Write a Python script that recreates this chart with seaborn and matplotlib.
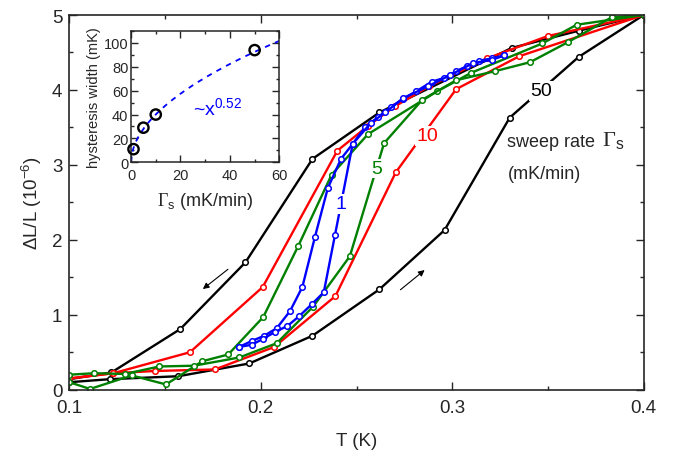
import numpy as np
import pandas as pd
import matplotlib
matplotlib.use("Agg")
import matplotlib.pyplot as plt
from matplotlib.ticker import MultipleLocator
import seaborn as sns

# ---- data: T (K) and dL/L (1e-6) ----
# 50 mK/min
black_cool_T = [0.400, 0.366, 0.331, 0.262, 0.227, 0.192, 0.158, 0.122, 0.100]
black_cool_y = [5.00, 4.79, 4.56, 3.70, 3.08, 1.70, 0.81, 0.23, 0.14]
black_warm_T = [0.100, 0.121, 0.157, 0.194, 0.227, 0.262, 0.296, 0.330, 0.366, 0.400]
black_warm_y = [0.10, 0.14, 0.18, 0.35, 0.72, 1.34, 2.13, 3.63, 4.44, 5.00]

# 10 mK/min
red_cool_T = [0.400, 0.350, 0.318, 0.288, 0.270, 0.256, 0.240, 0.201, 0.163, 0.123, 0.100]
red_cool_y = [5.00, 4.72, 4.42, 4.05, 3.78, 3.52, 3.19, 1.37, 0.50, 0.22, 0.15]
red_warm_T = [0.100, 0.123, 0.145, 0.176, 0.207, 0.239, 0.2705, 0.302, 0.335, 0.400]
red_warm_y = [0.15, 0.22, 0.25, 0.27, 0.57, 1.25, 2.90, 4.01, 4.45, 5.00]

# 5 mK/min
green_cool_T = [0.400, 0.365, 0.347, 0.310, 0.292, 0.256, 0.237, 0.2196, 0.2013, 0.183,
                0.1695, 0.1505, 0.1326, 0.1108, 0.100]
green_cool_y = [5.00, 4.87, 4.62, 4.23, 3.98, 3.41, 2.87, 1.92, 0.97, 0.47,
                0.38, 0.07, 0.19, 0.01, 0.10]
green_warm_T = [0.100, 0.113, 0.129, 0.147, 0.1651, 0.1888, 0.2083, 0.2274, 0.2465,
                0.2644, 0.2844, 0.3021, 0.3223, 0.3406, 0.3606, 0.3833, 0.400]
green_warm_y = [0.20, 0.22, 0.21, 0.31, 0.32, 0.43, 0.62, 1.11, 1.78,
                3.29, 3.87, 4.13, 4.25, 4.37, 4.64, 4.97, 5.00]

# 1 mK/min
blue_cool_T = [0.327, 0.3206, 0.3141, 0.3079, 0.302, 0.2957, 0.2893, 0.2811, 0.2741, 0.2679,
               0.2614, 0.2544, 0.248, 0.2419, 0.235, 0.2283, 0.2217, 0.2153, 0.2083, 0.2018,
               0.1953, 0.1886]
blue_cool_y = [4.46, 4.42, 4.39, 4.32, 4.25, 4.16, 4.11, 3.98, 3.88, 3.77,
               3.64, 3.50, 3.28, 3.08, 2.69, 2.04, 1.37, 1.05, 0.82, 0.72,
               0.65, 0.57]
blue_warm_T = [0.1886, 0.1953, 0.2013, 0.2074, 0.2139, 0.2200, 0.2266, 0.2329, 0.2388, 0.248,
               0.2575, 0.2650, 0.2744, 0.2875, 0.2990, 0.3110, 0.3206, 0.327]
blue_warm_y = [0.57, 0.60, 0.68, 0.77, 0.85, 0.98, 1.14, 1.30, 2.07, 3.28,
               3.56, 3.70, 3.89, 4.05, 4.20, 4.36, 4.40, 4.46]

# inset: hysteresis width vs sweep rate
rate = [1, 5, 10, 50]
width = [11, 29, 40, 94]
fit_amp, fit_exp = 12.1, 0.52

sns.set_style("ticks")
plt.rcParams['font.family'] = ['Liberation Sans', 'DejaVu Sans']
plt.rcParams['mathtext.fontset'] = 'custom'
plt.rcParams['mathtext.rm'] = 'Liberation Serif'
plt.rcParams['mathtext.sf'] = 'Liberation Sans'
plt.rcParams['mathtext.it'] = 'Liberation Sans:italic'

fig = plt.figure(figsize=(6.73, 4.56), dpi=100)
ax = fig.add_axes([0.103, 0.1432, 0.8535, 0.8217])

curves = [
    (black_cool_T, black_cool_y, 'black'),
    (black_warm_T, black_warm_y, 'black'),
    (red_cool_T, red_cool_y, '#ff0000'),
    (red_warm_T, red_warm_y, '#ff0000'),
    (green_cool_T, green_cool_y, '#008000'),
    (green_warm_T, green_warm_y, '#008000'),
    (blue_cool_T, blue_cool_y, '#0000ff'),
    (blue_warm_T, blue_warm_y, '#0000ff'),
]
for T, y, c in curves:
    sns.lineplot(x=T, y=y, sort=False, color=c, lw=1.7, marker='o', markersize=4,
                 markerfacecolor='white', markeredgecolor=c, markeredgewidth=1.1,
                 ax=ax, clip_on=True)

ax.set_xlim(0.1, 0.4)
ax.set_ylim(0, 5)
ax.xaxis.set_major_locator(MultipleLocator(0.1))
ax.xaxis.set_minor_locator(MultipleLocator(0.05))
ax.yaxis.set_major_locator(MultipleLocator(1))
ax.yaxis.set_minor_locator(MultipleLocator(0.5))
ax.tick_params(which='both', direction='in', top=True, right=True, labelsize=13.5, width=1)
ax.tick_params(which='major', length=6)
ax.tick_params(which='minor', length=3)
ax.tick_params(axis='x', pad=7)
ax.tick_params(axis='y', pad=5)
for s in ax.spines.values():
    s.set_linewidth(1.2)
ax.set_xlabel('T (K)', fontsize=13.5, labelpad=11)
ax.set_ylabel(r'$\mathsf{\Delta}$L/L (10$^{\mathsf{-6}}$)', fontsize=13.5, labelpad=6)

# labels on the curves (white box hides the line under them)
box = dict(facecolor='white', edgecolor='none', pad=1)
ax.text(0.3465, 3.99, '50', color='black', fontsize=14, ha='center', va='center', bbox=box)
ax.text(0.2868, 3.39, '10', color='#ff0000', fontsize=14, ha='center', va='center', bbox=box)
ax.text(0.2607, 2.95, '5', color='#008000', fontsize=14, ha='center', va='center', bbox=box)
ax.text(0.2420, 2.48, '1', color='#0000ff', fontsize=14, ha='center', va='center', bbox=box)
ax.text(0.3288, 3.31, 'sweep rate', fontsize=13, ha='left', va='center')
ax.text(0.3782, 3.33, r'$\mathrm{\Gamma}_{\mathsf{s}}$', fontsize=16, ha='left', va='center')
ax.text(0.3288, 2.89, '(mK/min)', fontsize=13, ha='left', va='center')

arrow = dict(arrowstyle='-|>', color='black', lw=0.8, mutation_scale=9)
ax.annotate('', xy=(0.1686, 1.32), xytext=(0.184, 1.63), arrowprops=arrow)
ax.annotate('', xy=(0.2867, 1.62), xytext=(0.2718, 1.31), arrowprops=arrow)

# inset
ins = fig.add_axes([0.1947, 0.6419, 0.2204, 0.2879])
xs = np.linspace(0, 60, 200)
sns.lineplot(x=xs, y=fit_amp * xs ** fit_exp, color='#0000ff', lw=1.3,
             linestyle=(0, (3, 3)), ax=ins)
sns.scatterplot(x=rate, y=width, s=55, facecolor='none', edgecolor='black',
                linewidth=1.7, ax=ins, zorder=3, clip_on=False)
ins.set_xlim(0, 60)
ins.set_ylim(0, 110)
ins.xaxis.set_major_locator(MultipleLocator(20))
ins.xaxis.set_minor_locator(MultipleLocator(10))
ins.yaxis.set_major_locator(MultipleLocator(20))
ins.yaxis.set_minor_locator(MultipleLocator(10))
ins.tick_params(which='both', direction='in', top=True, right=True, labelsize=10.5, width=1, pad=2)
ins.tick_params(axis='x', pad=4)
ins.tick_params(which='major', length=5)
ins.tick_params(which='minor', length=2.5)
for s in ins.spines.values():
    s.set_linewidth(1.1)
ins.set_xlabel(r'$\mathrm{\Gamma}_{\mathsf{s}}$ (mK/min)', fontsize=13, labelpad=6)
ins.set_ylabel('hysteresis width (mK)', fontsize=10.5, labelpad=2)
ins.text(25, 46, r'~x$^{\mathsf{0.52}}$', color='#0000ff', fontsize=14, ha='left', va='center')

fig.savefig('out.png', dpi=100)
